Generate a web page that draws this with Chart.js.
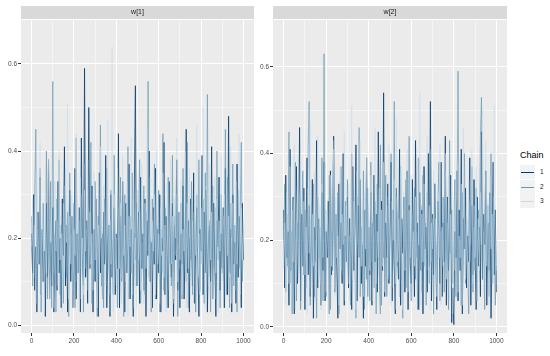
<!DOCTYPE html>
<html>
<head>
<meta charset="utf-8">
<script src="https://cdn.jsdelivr.net/npm/chart.js@4.4.1/dist/chart.umd.min.js"></script>
<style>
    body { margin: 0; background: #ffffff; font-family: "Liberation Sans", Arial, sans-serif; }
    #wrap { position: relative; width: 550px; height: 356px; overflow: hidden; }
    canvas { position: absolute; top: 0; }
    #panel1 { left: 0; }
    #panel2 { left: 256px; }
    #legend { position: absolute; left: 520px; top: 150px; }
    #legend .title { font-size: 9px; color: #000; margin-bottom: 5px; }
    #legend .row { position: relative; height: 14.5px; }
    #legend .key { position: absolute; left: 0; top: 0; width: 15px; height: 14px; background: #f2f2f2; }
    #legend .key span { position: absolute; left: 1px; right: 1px; top: 7px; height: 1px; }
    #legend .lbl { position: absolute; left: 20px; top: 3px; font-size: 6.5px; color: #1a1a1a; }
</style>
</head>
<body>
<div id="wrap">
    <canvas id="panel1" width="262" height="356"></canvas>
    <canvas id="panel2" width="254" height="356"></canvas>
    <div id="legend"></div>
</div>
<script>
// iterations 0..1000, one value kept every 5 draws
const iterations = [];
for (let i = 0; i <= 1000; i += 5) iterations.push(i);

const chainNames = ["1", "2", "3"];
const chainColors = ["#03396c", "#6497b1", "#c6dbea"];
const chainWidths = [0.75, 0.65, 0.5];

const xTicks = [0, 100, 200, 300, 400, 500, 600, 700, 800, 900, 1000];
const yTicks = [0, 0.1, 0.2, 0.3, 0.4, 0.5, 0.6];

// w[1]
const w1Chain1 = [
    0.21, 0.12, 0.30, 0.08, 0.18, 0.03, 0.26, 0.14, 0.34, 0.07, 0.22, 0.10, 0.17, 0.02, 0.28, 0.11, 0.38, 0.06, 0.19, 0.09,
    0.27, 0.03, 0.15, 0.24, 0.08, 0.33, 0.12, 0.20, 0.04, 0.29, 0.16, 0.41, 0.09, 0.23, 0.03, 0.18, 0.31, 0.10, 0.25, 0.04,
    0.14, 0.36, 0.06, 0.21, 0.12, 0.27, 0.03, 0.43, 0.15, 0.09, 0.59, 0.11, 0.24, 0.05, 0.50, 0.13, 0.19, 0.32, 0.03, 0.22,
    0.10, 0.29, 0.16, 0.02, 0.35, 0.12, 0.20, 0.06, 0.26, 0.14, 0.39, 0.04, 0.18, 0.23, 0.02, 0.30, 0.11, 0.17, 0.27, 0.07,
    0.21, 0.13, 0.44, 0.04, 0.25, 0.10, 0.33, 0.16, 0.03, 0.28, 0.12, 0.19, 0.37, 0.06, 0.22, 0.15, 0.02, 0.31, 0.55, 0.09,
    0.18, 0.26, 0.05, 0.34, 0.13, 0.21, 0.08, 0.29, 0.02, 0.24, 0.16, 0.40, 0.10, 0.19, 0.04, 0.27, 0.14, 0.36, 0.06, 0.22,
    0.12, 0.30, 0.03, 0.20, 0.17, 0.42, 0.07, 0.25, 0.13, 0.04, 0.33, 0.19, 0.11, 0.28, 0.02, 0.23, 0.15, 0.38, 0.08, 0.26,
    0.04, 0.21, 0.14, 0.32, 0.06, 0.18, 0.45, 0.12, 0.24, 0.03, 0.29, 0.16, 0.09, 0.35, 0.05, 0.20, 0.27, 0.13, 0.02, 0.22,
    0.17, 0.39, 0.07, 0.26, 0.12, 0.31, 0.03, 0.19, 0.23, 0.10, 0.41, 0.06, 0.28, 0.15, 0.02, 0.24, 0.18, 0.34, 0.08, 0.21,
    0.13, 0.27, 0.04, 0.36, 0.16, 0.07, 0.48, 0.12, 0.22, 0.03, 0.30, 0.14, 0.19, 0.05, 0.37, 0.11, 0.25, 0.17, 0.04, 0.28,
    0.15
];
const w1Chain2 = [
    0.25, 0.09, 0.18, 0.31, 0.45, 0.05, 0.22, 0.14, 0.36, 0.03, 0.20, 0.28, 0.11, 0.17, 0.40, 0.06, 0.24, 0.13, 0.33, 0.04,
    0.56, 0.12, 0.21, 0.03, 0.29, 0.16, 0.38, 0.07, 0.23, 0.14, 0.05, 0.32, 0.19, 0.11, 0.26, 0.02, 0.35, 0.15, 0.21, 0.08,
    0.28, 0.04, 0.43, 0.17, 0.12, 0.24, 0.06, 0.30, 0.20, 0.03, 0.37, 0.13, 0.22, 0.08, 0.27, 0.16, 0.42, 0.05, 0.19, 0.11,
    0.33, 0.14, 0.02, 0.25, 0.18, 0.46, 0.09, 0.21, 0.04, 0.29, 0.15, 0.36, 0.12, 0.23, 0.03, 0.31, 0.17, 0.07, 0.39, 0.13,
    0.20, 0.04, 0.27, 0.16, 0.34, 0.11, 0.22, 0.02, 0.30, 0.14, 0.18, 0.41, 0.06, 0.25, 0.12, 0.35, 0.04, 0.21, 0.15, 0.28,
    0.09, 0.24, 0.38, 0.05, 0.19, 0.13, 0.32, 0.07, 0.26, 0.17, 0.56, 0.11, 0.20, 0.03, 0.29, 0.14, 0.37, 0.06, 0.23, 0.16,
    0.31, 0.03, 0.22, 0.12, 0.44, 0.08, 0.27, 0.18, 0.04, 0.34, 0.14, 0.21, 0.09, 0.39, 0.05, 0.25, 0.16, 0.30, 0.02, 0.19,
    0.13, 0.28, 0.06, 0.36, 0.17, 0.23, 0.10, 0.42, 0.04, 0.20, 0.15, 0.33, 0.07, 0.26, 0.12, 0.03, 0.30, 0.18, 0.38, 0.08,
    0.22, 0.14, 0.29, 0.05, 0.35, 0.16, 0.53, 0.11, 0.24, 0.03, 0.19, 0.32, 0.13, 0.27, 0.06, 0.40, 0.15, 0.21, 0.04, 0.30,
    0.12, 0.25, 0.18, 0.45, 0.07, 0.34, 0.14, 0.04, 0.28, 0.20, 0.37, 0.09, 0.23, 0.16, 0.03, 0.31, 0.13, 0.26, 0.42, 0.10,
    0.19
];
const w1Chain3 = [
    0.18, 0.29, 0.11, 0.23, 0.05, 0.35, 0.14, 0.20, 0.42, 0.07, 0.26, 0.16, 0.03, 0.31, 0.12, 0.22, 0.38, 0.06, 0.19, 0.27,
    0.13, 0.04, 0.33, 0.17, 0.24, 0.09, 0.40, 0.15, 0.21, 0.03, 0.28, 0.12, 0.36, 0.19, 0.51, 0.06, 0.25, 0.14, 0.30, 0.04,
    0.22, 0.16, 0.44, 0.10, 0.27, 0.03, 0.34, 0.13, 0.20, 0.07, 0.31, 0.17, 0.24, 0.38, 0.05, 0.26, 0.14, 0.21, 0.08, 0.35,
    0.15, 0.29, 0.04, 0.23, 0.12, 0.41, 0.18, 0.06, 0.32, 0.20, 0.09, 0.27, 0.47, 0.07, 0.24, 0.14, 0.64, 0.03, 0.30, 0.17,
    0.09, 0.36, 0.21, 0.13, 0.28, 0.05, 0.39, 0.16, 0.23, 0.10, 0.33, 0.02, 0.25, 0.18, 0.43, 0.07, 0.29, 0.14, 0.20, 0.04,
    0.31, 0.15, 0.26, 0.08, 0.37, 0.19, 0.05, 0.28, 0.13, 0.45, 0.22, 0.10, 0.34, 0.04, 0.24, 0.17, 0.30, 0.07, 0.40, 0.14,
    0.21, 0.05, 0.27, 0.16, 0.35, 0.11, 0.23, 0.03, 0.32, 0.18, 0.08, 0.38, 0.14, 0.25, 0.06, 0.29, 0.20, 0.43, 0.10, 0.26,
    0.15, 0.33, 0.07, 0.22, 0.17, 0.40, 0.04, 0.28, 0.13, 0.36, 0.19, 0.09, 0.24, 0.05, 0.31, 0.16, 0.46, 0.11, 0.21, 0.07,
    0.27, 0.14, 0.50, 0.18, 0.04, 0.32, 0.23, 0.09, 0.37, 0.15, 0.26, 0.06, 0.20, 0.34, 0.12, 0.29, 0.03, 0.24, 0.17, 0.39,
    0.10, 0.22, 0.30, 0.06, 0.35, 0.16, 0.25, 0.11, 0.41, 0.05, 0.28, 0.19, 0.08, 0.33, 0.14, 0.23, 0.44, 0.07, 0.27, 0.15,
    0.21
];

// w[2]
const w2Chain1 = [
    0.27, 0.09, 0.35, 0.16, 0.22, 0.05, 0.41, 0.13, 0.19, 0.30, 0.03, 0.24, 0.37, 0.10, 0.18, 0.46, 0.06, 0.26, 0.14, 0.32,
    0.04, 0.21, 0.39, 0.12, 0.28, 0.07, 0.17, 0.34, 0.02, 0.23, 0.15, 0.43, 0.09, 0.25, 0.19, 0.05, 0.31, 0.13, 0.38, 0.06,
    0.22, 0.16, 0.29, 0.03, 0.36, 0.12, 0.20, 0.44, 0.08, 0.26, 0.14, 0.02, 0.33, 0.18, 0.24, 0.10, 0.40, 0.05, 0.21, 0.15,
    0.30, 0.09, 0.25, 0.17, 0.04, 0.37, 0.13, 0.22, 0.42, 0.06, 0.28, 0.16, 0.34, 0.10, 0.19, 0.02, 0.27, 0.14, 0.39, 0.07,
    0.23, 0.12, 0.31, 0.05, 0.20, 0.35, 0.15, 0.26, 0.08, 0.45, 0.18, 0.03, 0.29, 0.13, 0.54, 0.07, 0.24, 0.16, 0.33, 0.10,
    0.21, 0.38, 0.06, 0.27, 0.14, 0.03, 0.32, 0.19, 0.11, 0.41, 0.05, 0.25, 0.17, 0.30, 0.08, 0.22, 0.36, 0.04, 0.28, 0.15,
    0.10, 0.34, 0.20, 0.07, 0.43, 0.16, 0.24, 0.04, 0.31, 0.13, 0.27, 0.03, 0.37, 0.18, 0.23, 0.08, 0.40, 0.14, 0.52, 0.06,
    0.26, 0.12, 0.33, 0.17, 0.04, 0.29, 0.21, 0.10, 0.38, 0.07, 0.24, 0.15, 0.44, 0.05, 0.30, 0.13, 0.19, 0.35, 0.01, 0.09,
    0.005, 0.22, 0.16, 0.36, 0.06, 0.27, 0.13, 0.41, 0.03, 0.25, 0.18, 0.32, 0.09, 0.21, 0.15, 0.39, 0.05, 0.28, 0.12, 0.34,
    0.17, 0.04, 0.30, 0.14, 0.23, 0.07, 0.45, 0.11, 0.26, 0.19, 0.36, 0.05, 0.24, 0.13, 0.31, 0.02, 0.20, 0.38, 0.12, 0.27,
    0.08
];
const w2Chain2 = [
    0.20, 0.33, 0.08, 0.26, 0.14, 0.45, 0.10, 0.22, 0.03, 0.29, 0.17, 0.38, 0.06, 0.24, 0.13, 0.31, 0.04, 0.21, 0.36, 0.12,
    0.27, 0.09, 0.19, 0.41, 0.52, 0.05, 0.25, 0.15, 0.33, 0.07, 0.20, 0.02, 0.30, 0.16, 0.23, 0.10, 0.39, 0.06, 0.63, 0.14,
    0.07, 0.27, 0.18, 0.35, 0.04, 0.22, 0.13, 0.43, 0.09, 0.26, 0.16, 0.31, 0.03, 0.20, 0.37, 0.12, 0.24, 0.06, 0.29, 0.15,
    0.34, 0.10, 0.21, 0.05, 0.40, 0.17, 0.25, 0.13, 0.02, 0.30, 0.19, 0.46, 0.07, 0.23, 0.14, 0.36, 0.04, 0.27, 0.11, 0.32,
    0.18, 0.06, 0.38, 0.15, 0.24, 0.09, 0.29, 0.03, 0.33, 0.20, 0.12, 0.42, 0.05, 0.26, 0.16, 0.21, 0.35, 0.07, 0.28, 0.12,
    0.23, 0.40, 0.09, 0.18, 0.52, 0.04, 0.30, 0.14, 0.25, 0.07, 0.37, 0.17, 0.02, 0.27, 0.21, 0.34, 0.09, 0.19, 0.44, 0.13,
    0.06, 0.26, 0.16, 0.32, 0.11, 0.22, 0.04, 0.39, 0.18, 0.28, 0.08, 0.35, 0.14, 0.24, 0.05, 0.31, 0.20, 0.10, 0.41, 0.15,
    0.25, 0.03, 0.33, 0.19, 0.11, 0.28, 0.38, 0.06, 0.22, 0.16, 0.30, 0.08, 0.36, 0.13, 0.24, 0.04, 0.43, 0.17, 0.27, 0.10,
    0.21, 0.34, 0.07, 0.26, 0.59, 0.14, 0.20, 0.05, 0.31, 0.18, 0.40, 0.10, 0.25, 0.15, 0.03, 0.29, 0.19, 0.37, 0.08, 0.23,
    0.13, 0.32, 0.06, 0.27, 0.17, 0.44, 0.53, 0.11, 0.22, 0.04, 0.35, 0.15, 0.28, 0.07, 0.24, 0.40, 0.10, 0.30, 0.18, 0.05,
    0.14
];
const w2Chain3 = [
    0.14, 0.24, 0.05, 0.31, 0.18, 0.10, 0.37, 0.07, 0.27, 0.15, 0.42, 0.04, 0.21, 0.34, 0.11, 0.25, 0.40, 0.06, 0.19, 0.29,
    0.12, 0.23, 0.03, 0.32, 0.17, 0.47, 0.09, 0.26, 0.14, 0.36, 0.06, 0.21, 0.44, 0.11, 0.28, 0.04, 0.33, 0.16, 0.22, 0.38,
    0.08, 0.27, 0.18, 0.03, 0.35, 0.14, 0.24, 0.41, 0.07, 0.30, 0.16, 0.21, 0.05, 0.37, 0.13, 0.26, 0.19, 0.45, 0.10, 0.28,
    0.15, 0.33, 0.06, 0.22, 0.51, 0.11, 0.29, 0.17, 0.04, 0.36, 0.20, 0.08, 0.43, 0.14, 0.25, 0.07, 0.31, 0.18, 0.39, 0.05,
    0.24, 0.13, 0.35, 0.19, 0.06, 0.28, 0.46, 0.10, 0.22, 0.16, 0.32, 0.03, 0.27, 0.14, 0.38, 0.08, 0.21, 0.30, 0.11, 0.42,
    0.17, 0.05, 0.29, 0.20, 0.34, 0.10, 0.48, 0.15, 0.25, 0.07, 0.37, 0.18, 0.04, 0.31, 0.13, 0.23, 0.41, 0.08, 0.27, 0.16,
    0.35, 0.06, 0.22, 0.14, 0.30, 0.11, 0.39, 0.19, 0.54, 0.05, 0.26, 0.15, 0.33, 0.08, 0.21, 0.44, 0.13, 0.28, 0.04, 0.24,
    0.18, 0.36, 0.10, 0.25, 0.07, 0.31, 0.16, 0.42, 0.05, 0.23, 0.14, 0.29, 0.40, 0.11, 0.20, 0.35, 0.06, 0.26, 0.17, 0.03,
    0.30, 0.13, 0.24, 0.38, 0.08, 0.21, 0.16, 0.33, 0.05, 0.46, 0.19, 0.11, 0.27, 0.07, 0.34, 0.15, 0.22, 0.41, 0.10, 0.28,
    0.16, 0.37, 0.06, 0.25, 0.13, 0.31, 0.19, 0.50, 0.08, 0.23, 0.43, 0.14, 0.29, 0.05, 0.35, 0.18, 0.26, 0.10, 0.51, 0.20,
    0.13
];

// grey panel background + facet strip on top of the plot area
const panelBackground = {
    id: "panelBackground",
    beforeDraw(chart, args, opts)
    {
        const { ctx, chartArea } = chart;
        ctx.save();
        ctx.fillStyle = "#ebebeb";
        ctx.fillRect(chartArea.left, chartArea.top, chartArea.right - chartArea.left, chartArea.bottom - chartArea.top);

        ctx.fillStyle = "#d9d9d9";
        ctx.fillRect(chartArea.left, chartArea.top - 14, chartArea.right - chartArea.left, 13);
        ctx.fillStyle = "#1a1a1a";
        ctx.font = "7px 'Liberation Sans', Arial, sans-serif";
        ctx.textAlign = "center";
        ctx.textBaseline = "middle";
        ctx.fillText(opts.label, (chartArea.left + chartArea.right) / 2, chartArea.top - 7.5);
        ctx.restore();
    }
};

function makePanel(canvasId, stripLabel, chains, yMin, yMax, yAxisWidth, rightPad)
{
    const datasets = chains.map((values, i) => ({
        label: chainNames[i],
        data: values.map((v, j) => ({ x: iterations[j], y: v })),
        borderColor: chainColors[i],
        borderWidth: chainWidths[i],
        pointRadius: 0,
        tension: 0,
        fill: false,
        order: chains.length - 1 - i // chain 3 drawn last, like ggplot
    }));

    return new Chart(document.getElementById(canvasId), {
        type: "line",
        data: { datasets },
        options: {
            responsive: false,
            animation: false,
            layout: { padding: { top: 20, right: rightPad, left: 0, bottom: 0 } },
            plugins: {
                legend: { display: false },
                tooltip: { enabled: false },
                panelBackground: { label: stripLabel }
            },
            scales: {
                x: {
                    type: "linear",
                    min: -50,
                    max: 1050,
                    afterBuildTicks: scale => { scale.ticks = xTicks.map(v => ({ value: v })); },
                    afterFit: scale => { scale.height = 23; },
                    border: { display: false },
                    grid: {
                        color: "#ffffff",
                        lineWidth: c => (c.tick && c.tick.value % 200 === 0) ? 1 : 0.5,
                        tickColor: c => (c.tick && c.tick.value % 200 === 0) ? "#333333" : "rgba(0,0,0,0)",
                        tickLength: 3
                    },
                    ticks: {
                        autoSkip: false,
                        maxRotation: 0,
                        padding: 1,
                        color: "#4d4d4d",
                        font: { size: 6.5, family: "'Liberation Sans', Arial, sans-serif" },
                        callback: v => v % 200 === 0 ? String(v) : ""
                    }
                },
                y: {
                    min: yMin,
                    max: yMax,
                    afterBuildTicks: scale => { scale.ticks = yTicks.map(v => ({ value: v })); },
                    afterFit: scale => { scale.width = yAxisWidth; },
                    border: { display: false },
                    grid: {
                        color: "#ffffff",
                        lineWidth: c => (c.tick && Math.round(c.tick.value * 10) % 2 === 0) ? 1 : 0.5,
                        tickColor: c => (c.tick && Math.round(c.tick.value * 10) % 2 === 0) ? "#333333" : "rgba(0,0,0,0)",
                        tickLength: 3
                    },
                    ticks: {
                        autoSkip: false,
                        padding: 1,
                        color: "#4d4d4d",
                        font: { size: 6.5, family: "'Liberation Sans', Arial, sans-serif" },
                        callback: v => Math.round(v * 10) % 2 === 0 ? v.toFixed(1) : ""
                    }
                }
            }
        },
        plugins: [panelBackground]
    });
}

makePanel("panel1", "w[1]", [w1Chain1, w1Chain2, w1Chain3], -0.018, 0.701, 21, 8);
makePanel("panel2", "w[2]", [w2Chain1, w2Chain2, w2Chain3], -0.014, 0.708, 17, 3);

// legend
const legend = document.getElementById("legend");
legend.innerHTML = '<div class="title">Chain</div>' + chainNames.map((name, i) =>
    `<div class="row"><div class="key"><span style="background:${chainColors[i]}"></span></div><div class="lbl">${name}</div></div>`
).join("");
</script>
</body>
</html>
